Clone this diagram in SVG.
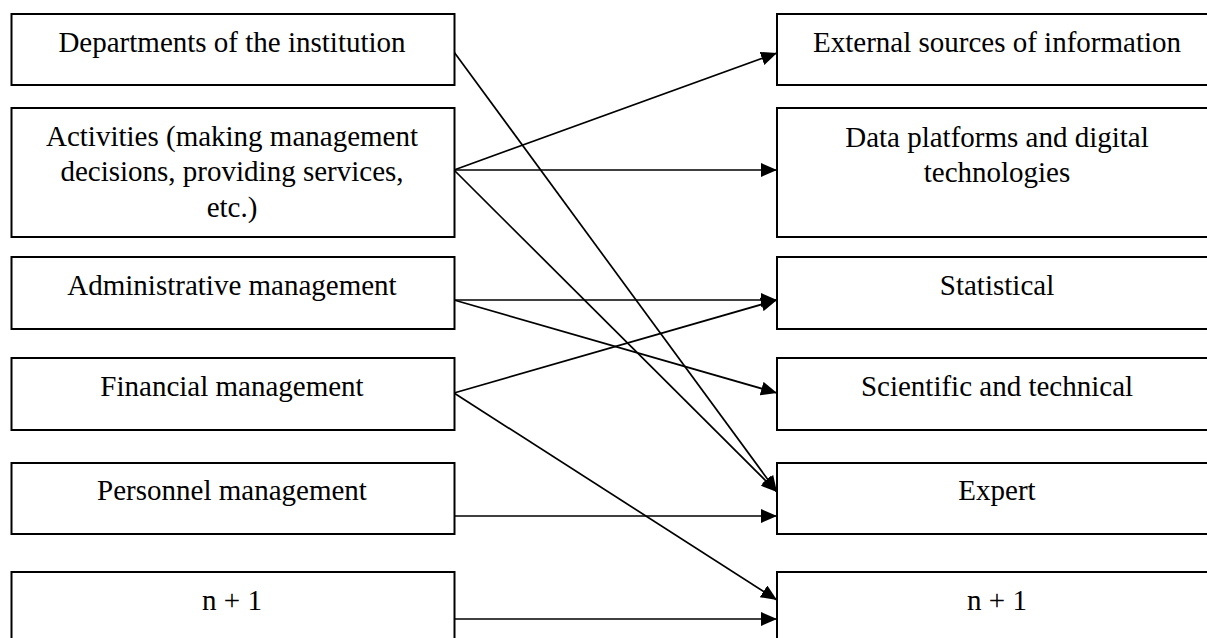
<svg xmlns="http://www.w3.org/2000/svg" width="1207" height="638" viewBox="0 0 1207 638">
<style>
.box{fill:#fff;stroke:#000;stroke-width:2}
.t{font-family:"Liberation Serif","Times New Roman",serif;font-size:29px;fill:#000;text-anchor:middle}
.c{stroke:#000;stroke-width:1.7;fill:none;marker-end:url(#ah)}
</style>
<defs>
<marker id="ah" markerUnits="userSpaceOnUse" markerWidth="16" markerHeight="14" refX="16" refY="7" orient="auto">
<path d="M0,0 L16,7 L0,14 z" fill="#000"/>
</marker>
</defs>
<rect width="1207" height="638" fill="#fff"/>
<g id="connectors">
<line class="c" x1="454" y1="52" x2="777" y2="492"/>
<line class="c" x1="454" y1="170" x2="777" y2="53"/>
<line class="c" x1="454" y1="170" x2="777" y2="170"/>
<line class="c" x1="454" y1="170" x2="777" y2="492"/>
<line class="c" x1="454" y1="300" x2="777" y2="300"/>
<line class="c" x1="454" y1="300" x2="777" y2="393"/>
<line class="c" x1="454" y1="393" x2="777" y2="300"/>
<line class="c" x1="454" y1="393" x2="777" y2="600"/>
<line class="c" x1="454" y1="516" x2="777" y2="516"/>
<line class="c" x1="454" y1="619" x2="777" y2="619"/>
</g>
<g id="l1"><rect class="box" x="11.5" y="14" width="443" height="71"/><text class="t" x="232" y="52">Departments of the institution</text></g>
<g id="l2"><rect class="box" x="11.5" y="108" width="443" height="129"/><text class="t" x="232" y="146">Activities (making management</text><text class="t" x="232" y="181">decisions, providing services,</text><text class="t" x="232" y="217">etc.)</text></g>
<g id="l3"><rect class="box" x="11.5" y="257" width="443" height="72"/><text class="t" x="232" y="295">Administrative management</text></g>
<g id="l4"><rect class="box" x="11.5" y="358" width="443" height="72"/><text class="t" x="232" y="396">Financial management</text></g>
<g id="l5"><rect class="box" x="11.5" y="463" width="443" height="71"/><text class="t" x="232" y="500">Personnel management</text></g>
<g id="l6"><rect class="box" x="11.5" y="572" width="443" height="80"/><text class="t" x="232" y="610">n + 1</text></g>
<g id="r1"><rect class="box" x="777" y="14" width="443" height="71"/><text class="t" x="997" y="52">External sources of information</text></g>
<g id="r2"><rect class="box" x="777" y="108" width="443" height="129"/><text class="t" x="997" y="147">Data platforms and digital</text><text class="t" x="997" y="182">technologies</text></g>
<g id="r3"><rect class="box" x="777" y="257" width="443" height="72"/><text class="t" x="997" y="295">Statistical</text></g>
<g id="r4"><rect class="box" x="777" y="358" width="443" height="72"/><text class="t" x="997" y="396">Scientific and technical</text></g>
<g id="r5"><rect class="box" x="777" y="463" width="443" height="71"/><text class="t" x="997" y="500">Expert</text></g>
<g id="r6"><rect class="box" x="777" y="572" width="443" height="80"/><text class="t" x="997" y="610">n + 1</text></g>
</svg>
